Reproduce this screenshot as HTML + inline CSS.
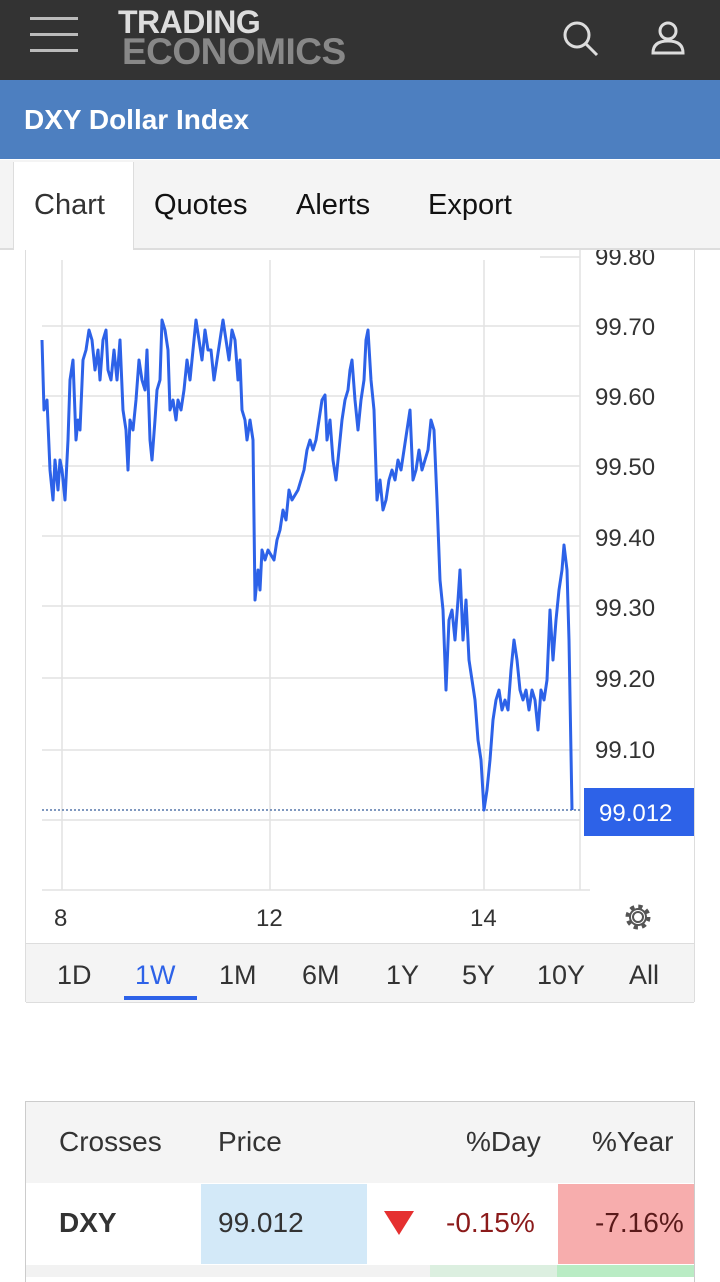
<!DOCTYPE html>
<html><head><meta charset="utf-8"><style>
body{margin:0;width:720px;height:1277px;overflow:hidden;background:#fff;font-family:"Liberation Sans",sans-serif;position:relative}
.a{position:absolute}
</style></head><body>
<div class="a" style="left:0;top:0;width:720px;height:80px;background:#333"></div>
<div class="a" style="left:30px;top:17px;width:48px;height:3px;background:#bbb;box-shadow:0 16px 0 #bbb,0 32px 0 #bbb"></div>
<div class="a" style="left:118px;top:6px;font:bold 32px 'Liberation Sans';color:#ddd;letter-spacing:-0.5px;line-height:32px">TRADING</div>
<div class="a" style="left:122px;top:34px;font:bold 37px 'Liberation Sans';color:#888;letter-spacing:-0.5px;line-height:36px">ECONOMICS</div>
<svg class="a" style="left:555px;top:15px" width="150" height="50"><circle cx="22" cy="20" r="12" fill="none" stroke="#ddd" stroke-width="3"/><line x1="31" y1="29" x2="42" y2="40" stroke="#ddd" stroke-width="3"/><circle cx="113" cy="16" r="8" fill="none" stroke="#ddd" stroke-width="3"/><path d="M98 38 Q98 26 113 26 Q128 26 128 38 Z" fill="none" stroke="#ddd" stroke-width="3"/></svg>
<div class="a" style="left:0;top:80px;width:720px;height:79px;background:#4d7fc0"></div>
<div class="a" style="left:24px;top:104px;font-size:28px;font-weight:bold;color:#fff">DXY Dollar Index</div>
<div class="a" style="left:0;top:160px;width:720px;height:88px;background:#f4f4f4;border-bottom:2px solid #ddd"></div>
<div class="a" style="left:13px;top:162px;width:119px;height:88px;background:#fff;border-left:1px solid #ddd;border-right:1px solid #ddd"></div>
<div class="a" style="left:34px;top:189px;font-size:29px;color:#333">Chart</div>
<div class="a" style="left:154px;top:189px;font-size:29px;color:#111">Quotes</div>
<div class="a" style="left:296px;top:189px;font-size:29px;color:#111">Alerts</div>
<div class="a" style="left:428px;top:189px;font-size:29px;color:#111">Export</div>
<div class="a" style="left:25px;top:250px;width:668px;height:751px;border:1px solid #ddd;border-top:none"></div>
<svg class="a" style="left:0;top:250px" width="720" height="700">
<g stroke="#e2e2e2" stroke-width="1.5">
<line x1="42" y1="76" x2="580" y2="76"/><line x1="42" y1="146" x2="580" y2="146"/><line x1="42" y1="216" x2="580" y2="216"/><line x1="42" y1="286" x2="580" y2="286"/><line x1="42" y1="356" x2="580" y2="356"/><line x1="42" y1="428" x2="580" y2="428"/><line x1="42" y1="500" x2="580" y2="500"/><line x1="42" y1="570" x2="580" y2="570"/><line x1="42" y1="640" x2="590" y2="640"/><line x1="540" y1="7" x2="580" y2="7"/>
<line x1="62" y1="10" x2="62" y2="640"/><line x1="270" y1="10" x2="270" y2="640"/><line x1="484" y1="10" x2="484" y2="640"/><line x1="580" y1="0" x2="580" y2="640"/>
</g>
<line x1="42" y1="560" x2="580" y2="560" stroke="#5577aa" stroke-width="1.5" stroke-dasharray="2,2"/>
<g transform="translate(0,-250)"><polyline fill="none" stroke="#2d62e8" stroke-width="3" stroke-linejoin="round" points="42,340 44,410 47,400 50,470 53,500 55,460 58,490 60,460 62,470 65,500 68,440 70,380 73,360 76,440 78,420 80,430 83,360 86,350 89,330 92,340 95,370 98,350 100,380 103,340 106,330 108,370 111,380 114,350 117,380 120,340 123,410 126,430 128,470 130,420 133,430 136,400 139,360 142,380 145,390 147,350 150,440 152,460 155,420 157,390 160,380 162,320 165,330 168,350 170,410 173,400 176,420 178,400 181,410 184,390 187,360 190,380 193,350 196,320 199,340 202,360 205,330 208,350 211,350 214,380 217,360 220,340 223,320 226,340 229,360 232,330 235,340 238,380 240,360 242,410 245,420 247,440 250,420 253,440 255,600 258,570 260,590 262,550 265,560 268,550 271,555 274,560 277,540 280,530 283,510 286,520 289,490 292,500 295,495 298,490 301,480 304,470 307,450 310,440 313,450 316,440 319,420 322,400 325,395 327,440 330,420 333,460 336,480 339,450 342,420 345,400 348,390 350,370 352,360 355,400 358,430 361,400 364,380 366,340 368,330 371,380 374,410 377,500 380,480 383,510 386,500 389,480 392,470 395,480 398,460 401,470 404,450 407,430 410,410 413,480 416,470 419,450 422,470 425,460 428,450 431,420 434,430 437,500 440,580 443,610 446,690 449,620 452,610 455,640 458,600 460,570 463,640 466,600 469,660 472,680 475,700 478,740 481,760 484,810 487,790 490,760 493,720 496,700 499,690 502,710 505,700 508,710 511,670 514,640 517,660 520,690 523,700 526,690 529,710 532,690 535,700 538,730 541,690 544,700 547,680 550,610 553,660 556,620 559,590 562,570 564,545 567,570 569,640 572,810"/></g>
<g font-size="24" fill="#333" font-family="Liberation Sans">
<text x="595" y="15">99.80</text><text x="595" y="85">99.70</text><text x="595" y="155">99.60</text><text x="595" y="225">99.50</text><text x="595" y="296">99.40</text><text x="595" y="366">99.30</text><text x="595" y="437">99.20</text><text x="595" y="508">99.10</text>
<text x="54" y="676">8</text><text x="256" y="676">12</text><text x="470" y="676">14</text>
</g>
<rect x="584" y="538" width="110" height="48" fill="#2d62e8"/>
<text x="599" y="571" font-size="24" fill="#fff" font-family="Liberation Sans">99.012</text>
<g transform="translate(638,667)" fill="none" stroke="#555" stroke-width="2"><circle r="5"/><circle r="10" stroke-dasharray="4,3.85" stroke-width="5"/><circle r="8"/></g>
</svg>
<div class="a" style="left:26px;top:943px;width:668px;height:58px;background:#f4f4f4;border-top:1px solid #ddd;border-bottom:1px solid #ddd"></div>
<div class="a" style="top:960px;left:0;width:720px;font-size:27px;color:#333">
<span class="a" style="left:57px">1D</span><span class="a" style="left:135px;color:#2d62e8">1W</span><span class="a" style="left:219px">1M</span><span class="a" style="left:302px">6M</span><span class="a" style="left:386px">1Y</span><span class="a" style="left:462px">5Y</span><span class="a" style="left:537px">10Y</span><span class="a" style="left:629px">All</span></div>
<div class="a" style="left:124px;top:996px;width:73px;height:4px;background:#2d62e8"></div>
<div class="a" style="left:25px;top:1101px;width:668px;height:180px;border:1px solid #ccc;border-bottom:none"></div>
<div class="a" style="left:26px;top:1102px;width:668px;height:81px;background:#f4f4f4"></div>
<div class="a" style="top:1126px;left:0;width:720px;font-size:28px;color:#333">
<span class="a" style="left:59px">Crosses</span><span class="a" style="left:218px">Price</span><span class="a" style="left:466px">%Day</span><span class="a" style="left:592px">%Year</span></div>
<div class="a" style="left:201px;top:1184px;width:166px;height:80px;background:#d3e9f8"></div>
<div class="a" style="left:558px;top:1184px;width:136px;height:80px;background:#f7adad"></div>
<div class="a" style="left:26px;top:1265px;width:404px;height:12px;background:#f2f2f2"></div>
<div class="a" style="left:430px;top:1265px;width:127px;height:12px;background:#dcefe0"></div>
<div class="a" style="left:557px;top:1265px;width:137px;height:12px;background:#b9ecc4"></div>
<div class="a" style="top:1207px;left:0;width:720px;font-size:28px;color:#333">
<span class="a" style="left:59px;font-weight:bold">DXY</span><span class="a" style="left:218px">99.012</span><span class="a" style="left:446px;color:#8b1a1a">-0.15%</span><span class="a" style="left:595px;color:#5a1a1a">-7.16%</span></div>
<div class="a" style="left:384px;top:1211px;width:0;height:0;border-left:15px solid transparent;border-right:15px solid transparent;border-top:24px solid #e53030"></div>
</body></html>
